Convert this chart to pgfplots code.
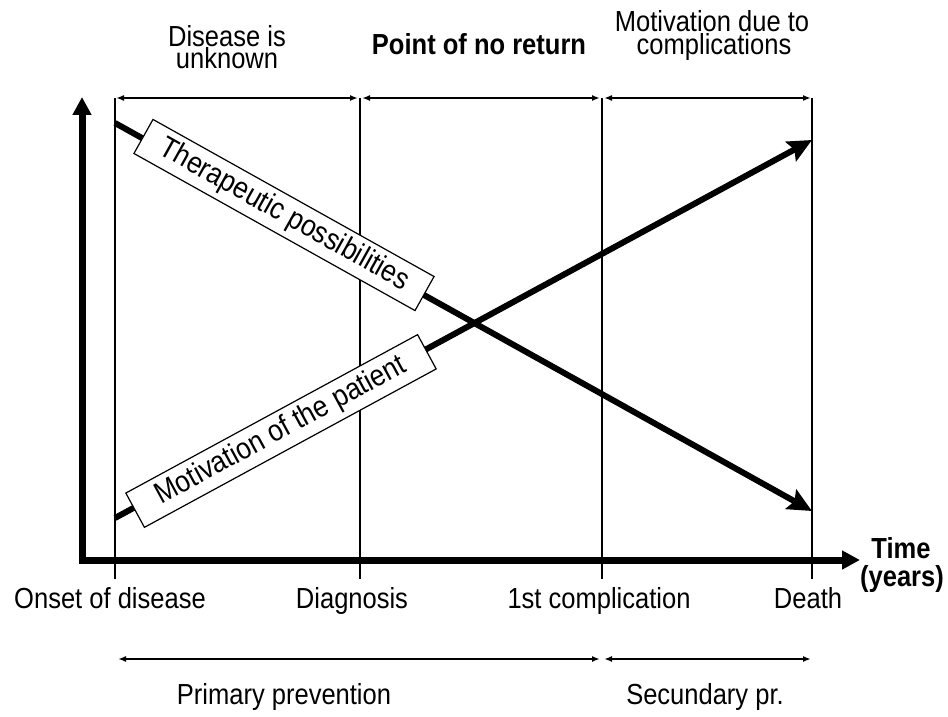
\documentclass[border=0pt]{standalone}
\usepackage{pgfplots}
\pgfplotsset{compat=1.18}
\usepackage{fontspec}
\setmainfont{Liberation Sans}[FakeStretch=0.88]
\usetikzlibrary{arrows.meta}
\begin{document}
\begin{tikzpicture}[lbl/.style={font=\fontsize{14.5}{16}\selectfont, inner sep=0pt, anchor=base}]
\begin{axis}[scale only axis, width=474pt, height=358.5pt,
  xmin=0, xmax=948, ymin=0, ymax=717, y dir=reverse, hide axis, clip=false]
\path (axis cs:0,0) rectangle (axis cs:948,717);
% vertical guide lines
\addplot[black, line width=0.9pt] coordinates {(115,98) (115,579)};
\addplot[black, line width=0.9pt] coordinates {(360,98) (360,579)};
\addplot[black, line width=0.9pt] coordinates {(602,98) (602,579)};
\addplot[black, line width=0.9pt] coordinates {(812,98) (812,579)};
% top double arrows
\addplot[black, line width=0.8pt, {Latex[length=4pt,width=3pt]}-{Latex[length=4pt,width=3pt]}] coordinates {(116,98) (358,98)};
\addplot[black, line width=0.8pt, {Latex[length=4pt,width=3pt]}-{Latex[length=4pt,width=3pt]}] coordinates {(362,98) (600,98)};
\addplot[black, line width=0.8pt, {Latex[length=4pt,width=3pt]}-{Latex[length=4pt,width=3pt]}] coordinates {(604,98) (811,98)};
% bottom double arrows
\addplot[black, line width=0.8pt, {Latex[length=4pt,width=3pt]}-{Latex[length=4pt,width=3pt]}] coordinates {(118,659) (600,659)};
\addplot[black, line width=0.8pt, {Latex[length=4pt,width=3pt]}-{Latex[length=4pt,width=3pt]}] coordinates {(604,659) (811,659)};
% axes
\addplot[black, line width=3.5pt, -{Triangle[length=9pt,width=9pt]}] coordinates {(82,563) (82,97)};
\addplot[black, line width=3.5pt, -{Triangle[length=9pt,width=9pt]}] coordinates {(79,560) (860,560)};
% data lines
\addplot[black, line width=3pt, -{Stealth[length=12pt,width=11pt,inset=2pt]}] coordinates {(115,123) (812,511)};
\addplot[black, line width=3pt, -{Stealth[length=12pt,width=11pt,inset=2pt]}] coordinates {(115,518) (812,140)};
% boxed labels
\node[draw, fill=white, line width=0.6pt, rotate=-29.2, minimum width=161pt, minimum height=19.5pt, inner sep=0pt, anchor=center, font=\fontsize{15}{17}\selectfont] at (axis cs:284,215) {Therapeutic possibilities};
\node[draw, fill=white, line width=0.6pt, rotate=28.5, minimum width=166pt, minimum height=19.5pt, inner sep=0pt, anchor=center, font=\fontsize{15}{17}\selectfont] at (axis cs:281,431) {Motivation of the patient};
% tick labels
\node[lbl] at (axis cs:110,608) {Onset of disease};
\node[lbl] at (axis cs:352,608) {Diagnosis};
\node[lbl] at (axis cs:599,608) {1st complication};
\node[lbl] at (axis cs:808,608) {Death};
\node[lbl, font=\fontsize{14.5}{16}\selectfont\bfseries] at (axis cs:901,558) {Time};
\node[lbl, font=\fontsize{14.5}{16}\selectfont\bfseries] at (axis cs:902,586) {(years)};
% top labels
\node[lbl] at (axis cs:227,47) {Disease is};
\node[lbl] at (axis cs:227,69) {unknown};
\node[lbl, font=\fontsize{14.5}{16}\selectfont\bfseries] at (axis cs:479,55) {Point of no return};
\node[lbl] at (axis cs:712,32) {Motivation due to};
\node[lbl] at (axis cs:714,55) {complications};
% bottom labels
\node[lbl] at (axis cs:284,704) {Primary prevention};
\node[lbl] at (axis cs:705,704) {Secundary pr.};
\end{axis}
\end{tikzpicture}
\end{document}
